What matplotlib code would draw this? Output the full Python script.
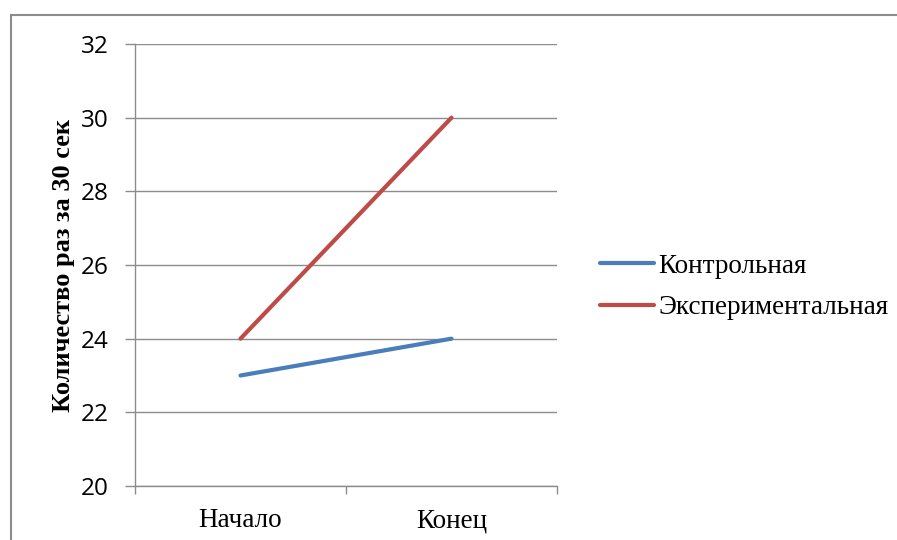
import matplotlib
matplotlib.use("Agg")
import matplotlib.pyplot as plt
from matplotlib.lines import Line2D

# Data
stages = ["Начало", "Конец"]
control = [23, 24]
experimental = [24, 30]
series_names = ["Контрольная", "Экспериментальная"]
y_ticks = [20, 22, 24, 26, 28, 30, 32]

fig = plt.figure(figsize=(8.97, 5.40), dpi=100)
ax = fig.add_axes([135 / 897, 1 - 486 / 540, 422 / 897, 442 / 540])

x = list(range(len(stages)))
ax.plot(x, control, color="#4A7EBB", lw=3, solid_capstyle="round", label=series_names[0])
ax.plot(x, experimental, color="#BE4B48", lw=3, solid_capstyle="round", label=series_names[1])

ax.set_xlim(-0.5, 1.5)
ax.set_ylim(20, 32)
ax.set_yticks(y_ticks)
ax.set_yticklabels([str(v) for v in y_ticks], fontsize=17.5, family="Open Sans")
ax.yaxis.grid(True, color="#8c8c8c", lw=1)
ax.set_axisbelow(True)

# category labels between boundary ticks
ax.set_xticks([-0.5, 0.5, 1.5])
ax.set_xticklabels([])
ax.set_xticks(x, minor=True)
ax.set_xticklabels(stages, minor=True, fontsize=19.5, family="Liberation Serif")
ax.tick_params(axis="x", which="minor", length=0, pad=16)
ax.tick_params(axis="x", which="major", length=6, color="#8c8c8c", width=1)
ax.tick_params(axis="y", length=7, color="#8c8c8c", width=1, pad=12)

for side in ["top", "right"]:
    ax.spines[side].set_visible(False)
for side in ["left", "bottom"]:
    ax.spines[side].set_color("#8c8c8c")
    ax.spines[side].set_linewidth(1)

ax.set_ylabel("Количество раз за 30 сек", fontsize=19, family="Liberation Serif",
              fontweight="bold", labelpad=4)

ax.legend(loc="center left", bbox_to_anchor=(589 / 897, 1 - 287 / 540),
          bbox_transform=fig.transFigure, frameon=False,
          prop={"family": "Liberation Serif", "size": 19.5},
          handlelength=2.0, handletextpad=0.15, labelspacing=0.62, borderaxespad=0)

# chart outer frame
fig.add_artist(Line2D([11 / 897, 11 / 897], [0, 1 - 15 / 540], color="#8c8c8c", lw=1.5,
                      transform=fig.transFigure))
fig.add_artist(Line2D([11 / 897, 1], [1 - 15 / 540, 1 - 15 / 540], color="#8c8c8c", lw=1.5,
                      transform=fig.transFigure))

fig.savefig("out.png", dpi=100)
